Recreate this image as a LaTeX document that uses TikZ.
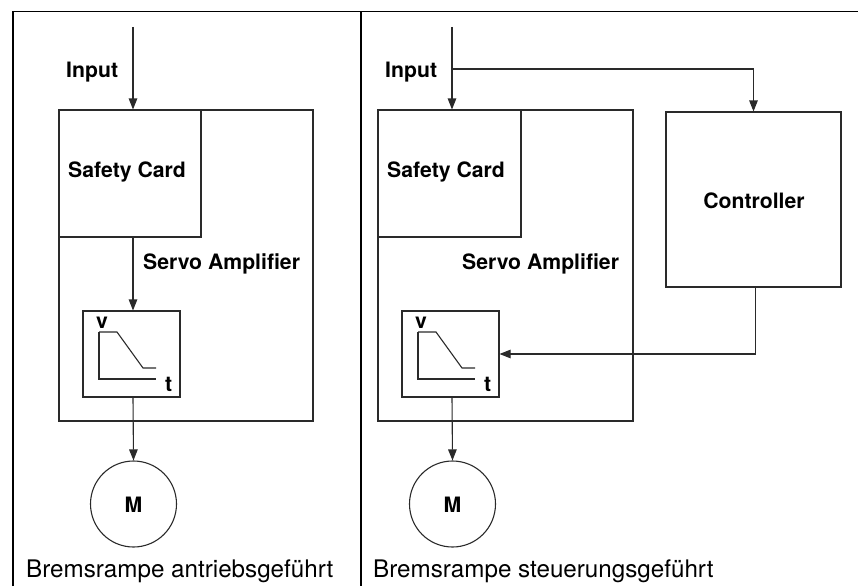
\documentclass[tikz,border=0pt]{standalone}
\usepackage{fontspec}
\setmainfont{TeX Gyre Heros}
\usetikzlibrary{arrows.meta}
\definecolor{ln}{HTML}{2A2A2A}
\tikzset{
  box/.style={draw=ln, line width=1.1pt, inner sep=0pt, rectangle},
  frameline/.style={draw=black, line width=1.3pt},
  conn/.style={draw=ln, line width=1.1pt, -{Triangle[length=11pt,width=8.5pt]}},
  plain/.style={draw=ln, line width=1.1pt},
  lbl/.style={font=\fontsize{21.2}{23}\selectfont\bfseries, inner sep=0pt},
  captxt/.style={font=\fontsize{24.2}{26}\selectfont, inner sep=0pt},
  motor/.style={draw=ln, line width=1.1pt, circle, minimum size=86pt, inner sep=0pt},
}
\begin{document}
\begin{tikzpicture}[x=1pt,y=-1pt]
\useasboundingbox (0,0) rectangle (858,586);
% frame
\draw[frameline] (13,586) -- (13,11.5) -- (858,11.5);
\draw[frameline] (361,11.5) -- (361,586);

% ===== left panel =====
\node[box, minimum width=254pt, minimum height=311pt] (sa1) at (186,265.5) {};
\node[box, minimum width=142pt, minimum height=127pt] (sc1) at (130,173.5) {};
\node[box, minimum width=97pt, minimum height=86pt] (rp1) at (131.5,354) {};
\node[motor] (m1) at (133.5,504) {};
\node[lbl, anchor=base] at (m1.center |- 0,512) {M};
\coordinate (in1) at (133,27);
\node[lbl, anchor=base west] (tin1) at (66,77) {Input};
\node[lbl, anchor=base west] (tsc1) at (68,177) {Safety Card};
\node[lbl, anchor=base west] (tsa1) at (143,269) {Servo Amplifier};
\node[lbl, anchor=base west] (v1) at (96,328) {v};
\node[lbl, anchor=base west] (t1) at (165,391) {t};
\draw[plain] (99,332) -- (99,379) -- (156,379);
\draw[plain] (99,332) -- (117,332) -- (143,368) -- (156,368);
\draw[conn] (in1) -- (in1 |- sc1.north);
\draw[conn] (in1 |- sc1.south) -- (in1 |- rp1.north);
\draw[conn] (in1 |- rp1.south) -- (m1.north);
\node[captxt, anchor=base west] (c1) at (26,577) {Bremsrampe antriebsgeführt};

% ===== right panel =====
\node[box, minimum width=255pt, minimum height=311pt] (sa2) at (505.5,265.5) {};
\node[box, minimum width=143pt, minimum height=127pt] (sc2) at (449.5,173.5) {};
\node[box, minimum width=175pt, minimum height=175pt] (ct) at (753.5,199.5) {};
\node[box, minimum width=97pt, minimum height=86pt] (rp2) at (450.5,354) {};
\node[motor] (m2) at (452.5,504) {};
\node[lbl, anchor=base] at (m2.center |- 0,512) {M};
\coordinate (in2) at (452,27);
\coordinate (br) at (452,69);
\node[lbl, anchor=base west] (tin2) at (385,77) {Input};
\node[lbl, anchor=base west] (tsc2) at (387,177) {Safety Card};
\node[lbl, anchor=base west] (tsa2) at (462,269) {Servo Amplifier};
\node[lbl, anchor=base] (tct) at (754,208) {Controller};
\node[lbl, anchor=base west] (v2) at (415,328) {v};
\node[lbl, anchor=base west] (t2) at (484,391) {t};
\draw[plain] (418,332) -- (418,379) -- (475,379);
\draw[plain] (418,332) -- (436,332) -- (462,368) -- (475,368);
\draw[conn] (in2) -- (in2 |- sc2.north);
\draw[conn] (br) -| (ct.north);
\draw[conn] ([xshift=2pt]ct.south) |- (rp2.east);
\draw[conn] (in2 |- rp2.south) -- (m2.north);
\node[captxt, anchor=base west] (c2) at (373,577) {Bremsrampe steuerungsgeführt};
\end{tikzpicture}
\end{document}
